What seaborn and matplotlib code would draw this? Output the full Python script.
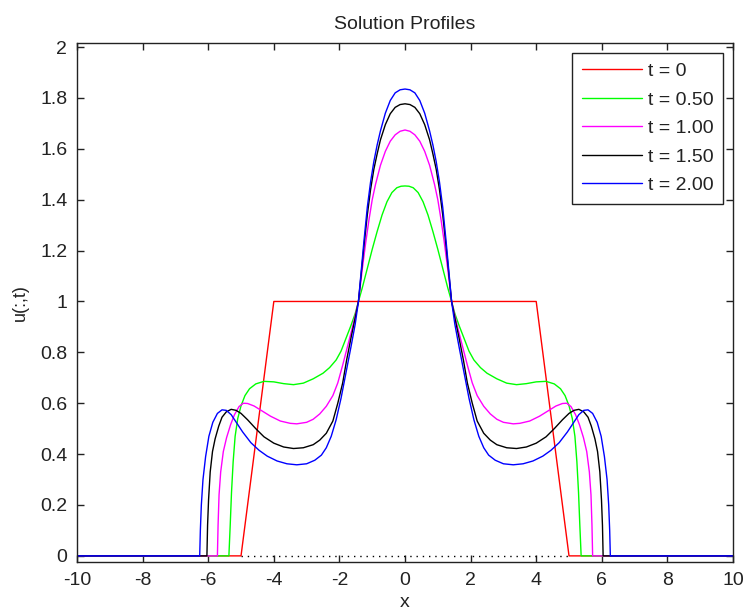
import matplotlib
matplotlib.use("Agg")
import matplotlib.pyplot as plt
import seaborn as sns
import pandas as pd

# ---------------- data ----------------
red_x = [-10.0, -5.0, -4.0, 4.0, 5.0, 10.0]
red_y = [0, 0, 1.0, 1.0, 0, 0]

green_x = [-10.0, -5.37, -5.33, -5.29, -5.24, -5.18, -5.10, -5.00, -4.88, -4.74, -4.55, -4.30,
           -4.00, -3.70, -3.40, -3.10, -2.80, -2.50, -2.30, -2.10, -1.95, -1.80, -1.65, -1.52,
           -1.42, -1.30, -1.20, -1.10, -1.00, -0.85, -0.70, -0.55, -0.40, -0.25, -0.12, 0.00,
           0.12, 0.25, 0.40, 0.55, 0.70, 0.85, 1.00, 1.10, 1.20, 1.30, 1.42,
           1.52, 1.65, 1.80, 1.95, 2.10, 2.30, 2.50, 2.80, 3.10, 3.40, 3.70, 4.00,
           4.30, 4.55, 4.74, 4.88, 5.00, 5.10, 5.18, 5.24, 5.29, 5.33, 5.37, 10.0]
green_y = [0, 0, 0.12, 0.25, 0.37, 0.47, 0.54, 0.59, 0.63, 0.657, 0.676, 0.686,
           0.684, 0.677, 0.673, 0.679, 0.696, 0.718, 0.740, 0.770, 0.805, 0.855, 0.905, 0.952,
           1.000, 1.055, 1.105, 1.155, 1.205, 1.275, 1.340, 1.392, 1.428, 1.447, 1.453, 1.454,
           1.453, 1.447, 1.428, 1.392, 1.340, 1.275, 1.205, 1.155, 1.105, 1.055, 1.000,
           0.952, 0.905, 0.855, 0.805, 0.770, 0.740, 0.718, 0.696, 0.679, 0.673, 0.677, 0.684,
           0.686, 0.676, 0.657, 0.63, 0.59, 0.54, 0.47, 0.37, 0.25, 0.12, 0, 0]

magenta_x = [-10.0, -5.72, -5.70, -5.67, -5.62, -5.54, -5.44, -5.32, -5.20, -5.06, -4.93, -4.80,
             -4.60, -4.40, -4.10, -3.80, -3.50, -3.30, -3.00, -2.80, -2.60, -2.40, -2.20, -2.05,
             -1.90, -1.75, -1.60, -1.50, -1.42, -1.30, -1.20, -1.10, -1.00, -0.90, -0.75, -0.60,
             -0.45, -0.30, -0.15, 0.00,
             0.15, 0.30, 0.45, 0.60, 0.75, 0.90, 1.00, 1.10, 1.20, 1.30, 1.42, 1.50,
             1.60, 1.75, 1.90, 2.05, 2.20, 2.40, 2.60, 2.80, 3.00, 3.30, 3.50, 3.80,
             4.10, 4.40, 4.60, 4.80, 4.93, 5.06, 5.20, 5.32, 5.44, 5.54, 5.62, 5.67,
             5.70, 5.72, 10.0]
magenta_y = [0, 0, 0.12, 0.24, 0.33, 0.41, 0.465, 0.515, 0.555, 0.587, 0.600, 0.599,
             0.589, 0.573, 0.549, 0.530, 0.521, 0.519, 0.525, 0.537, 0.558, 0.588, 0.630, 0.680,
             0.750, 0.825, 0.900, 0.955, 1.000, 1.130, 1.230, 1.320, 1.400, 1.460, 1.535, 1.590,
             1.630, 1.655, 1.669, 1.674,
             1.669, 1.655, 1.630, 1.590, 1.535, 1.460, 1.400, 1.320, 1.230, 1.130, 1.000, 0.955,
             0.900, 0.825, 0.750, 0.680, 0.630, 0.588, 0.558, 0.537, 0.525, 0.519, 0.521, 0.530,
             0.549, 0.573, 0.589, 0.599, 0.600, 0.587, 0.555, 0.515, 0.465, 0.41, 0.33, 0.24,
             0.12, 0, 0]

black_x = [-10.0, -6.04, -6.02, -5.99, -5.94, -5.87, -5.79, -5.68, -5.58, -5.45, -5.30, -5.15,
           -5.00, -4.80, -4.55, -4.30, -4.00, -3.70, -3.40, -3.10, -2.80, -2.60, -2.40, -2.20,
           -2.05, -1.90, -1.78, -1.65, -1.52, -1.42, -1.35, -1.25, -1.15, -1.05, -0.95, -0.85,
           -0.75, -0.60, -0.45, -0.30, -0.15, 0.00,
           0.15, 0.30, 0.45, 0.60, 0.75, 0.85, 0.95, 1.05, 1.15, 1.25, 1.35, 1.42,
           1.52, 1.65, 1.78, 1.90, 2.05, 2.20, 2.40, 2.60, 2.80, 3.10, 3.40, 3.70,
           4.00, 4.30, 4.55, 4.80, 5.00, 5.15, 5.30, 5.45, 5.58, 5.68, 5.79, 5.87,
           5.94, 5.99, 6.02, 6.04, 10.0]
black_y = [0, 0, 0.12, 0.22, 0.33, 0.41, 0.46, 0.51, 0.545, 0.566, 0.576, 0.572,
           0.560, 0.535, 0.500, 0.468, 0.443, 0.428, 0.422, 0.425, 0.437, 0.455, 0.482, 0.530,
           0.600, 0.680, 0.770, 0.855, 0.935, 1.000, 1.090, 1.220, 1.340, 1.440, 1.520, 1.580,
           1.635, 1.695, 1.738, 1.763, 1.774, 1.777,
           1.774, 1.763, 1.738, 1.695, 1.635, 1.580, 1.520, 1.440, 1.340, 1.220, 1.090, 1.000,
           0.935, 0.855, 0.770, 0.680, 0.600, 0.530, 0.482, 0.455, 0.437, 0.425, 0.422, 0.428,
           0.443, 0.468, 0.500, 0.535, 0.560, 0.572, 0.576, 0.566, 0.545, 0.51, 0.46, 0.41,
           0.33, 0.22, 0.12, 0, 0]

blue_x = [-10.0, -6.26, -6.24, -6.21, -6.16, -6.08, -5.98, -5.86, -5.72, -5.58, -5.45, -5.30,
          -5.13, -4.95, -4.70, -4.45, -4.20, -3.90, -3.60, -3.30, -3.00, -2.75, -2.55, -2.40,
          -2.25, -2.10, -1.95, -1.80, -1.65, -1.52, -1.42, -1.35, -1.25, -1.15, -1.05, -0.95,
          -0.85, -0.75, -0.60, -0.45, -0.30, -0.15, 0.00,
          0.15, 0.30, 0.45, 0.60, 0.75, 0.85, 0.95, 1.05, 1.15, 1.25, 1.35, 1.42,
          1.52, 1.65, 1.80, 1.95, 2.10, 2.25, 2.40, 2.55, 2.75, 3.00, 3.30, 3.60,
          3.90, 4.20, 4.45, 4.70, 4.95, 5.13, 5.30, 5.45, 5.58, 5.72, 5.86, 5.98,
          6.08, 6.16, 6.21, 6.24, 6.26, 10.0]
blue_y = [0, 0, 0.10, 0.20, 0.30, 0.39, 0.47, 0.525, 0.560, 0.574, 0.572, 0.555,
          0.522, 0.487, 0.445, 0.415, 0.392, 0.373, 0.362, 0.358, 0.362, 0.376, 0.396, 0.425,
          0.470, 0.535, 0.620, 0.720, 0.820, 0.910, 1.000, 1.100, 1.240, 1.370, 1.470, 1.550,
          1.615, 1.670, 1.740, 1.790, 1.820, 1.832, 1.835,
          1.832, 1.820, 1.790, 1.740, 1.670, 1.615, 1.550, 1.470, 1.370, 1.240, 1.100, 1.000,
          0.910, 0.820, 0.720, 0.620, 0.535, 0.470, 0.425, 0.396, 0.376, 0.362, 0.358, 0.362,
          0.373, 0.392, 0.415, 0.445, 0.487, 0.522, 0.555, 0.572, 0.574, 0.560, 0.525, 0.47,
          0.39, 0.30, 0.20, 0.10, 0, 0]

baseline_x = [-5.0, 5.0]
baseline_y = [0.0, 0.0]

labels = ["t = 0", "t = 0.50", "t = 1.00", "t = 1.50", "t = 2.00"]
colors = ["#ff0000", "#00ff00", "#ff00ff", "#000000", "#0000ff"]
x_ticks = [-10, -8, -6, -4, -2, 0, 2, 4, 6, 8, 10]
y_ticks = [0, 0.2, 0.4, 0.6, 0.8, 1.0, 1.2, 1.4, 1.6, 1.8, 2.0]
y_tick_labels = ["0", "0.2", "0.4", "0.6", "0.8", "1", "1.2", "1.4", "1.6", "1.8", "2"]

# ---------------- style ----------------
sns.set_theme(style="ticks")
plt.rcParams["font.family"] = ["Liberation Sans", "DejaVu Sans"]
plt.rcParams.update({
    "xtick.direction": "in", "ytick.direction": "in",
    "xtick.top": True, "ytick.right": True,
    "xtick.major.size": 5, "ytick.major.size": 5,
    "xtick.major.width": 1.0, "ytick.major.width": 1.0,
    "xtick.color": "#222222", "ytick.color": "#222222",
    "axes.edgecolor": "#222222", "axes.linewidth": 1.0,
})

fig = plt.figure(figsize=(7.45, 6.15), dpi=100)
ax = fig.add_axes([0.1034, 0.0862, 0.8805, 0.8439])

# dotted zero line
ax.plot(baseline_x, baseline_y, color="black", lw=1.0, dashes=(1, 3.5), zorder=1)

series = [(red_x, red_y), (green_x, green_y), (magenta_x, magenta_y),
          (black_x, black_y), (blue_x, blue_y)]
for (xs, ys), lab, col in zip(series, labels, colors):
    df = pd.DataFrame({"x": xs, "u": ys})
    sns.lineplot(data=df, x="x", y="u", ax=ax, color=col, lw=1.0, label=lab,
                 sort=False, estimator=None, zorder=2)

ax.set_xlim(-10, 10)
ax.set_ylim(-0.024, 2.016)
ax.set_xticks(x_ticks)
ax.set_xticklabels([str(v) for v in x_ticks])
ax.set_yticks(y_ticks)
ax.set_yticklabels(y_tick_labels)
ax.tick_params(axis="both", labelsize=14, pad=7, labelcolor="#222222")
for s in ax.spines.values():
    s.set_visible(True)
    s.set_color("#222222")

ax.set_title("Solution Profiles", fontsize=14, pad=10, color="#222222")
ax.set_xlabel("x", fontsize=14, labelpad=4, color="#222222")
ax.set_ylabel("u(:,t)", fontsize=13, labelpad=8, color="#222222")

leg = ax.legend(loc="upper right", fontsize=14, frameon=True, fancybox=False,
                edgecolor="#222222", framealpha=1.0, handlelength=3.1,
                handletextpad=0.3, labelspacing=0.56, borderpad=0.5,
                borderaxespad=0.5)
leg.get_frame().set_linewidth(1.0)
for t in leg.get_texts():
    t.set_color("#222222")

fig.savefig("out.png", dpi=100)
